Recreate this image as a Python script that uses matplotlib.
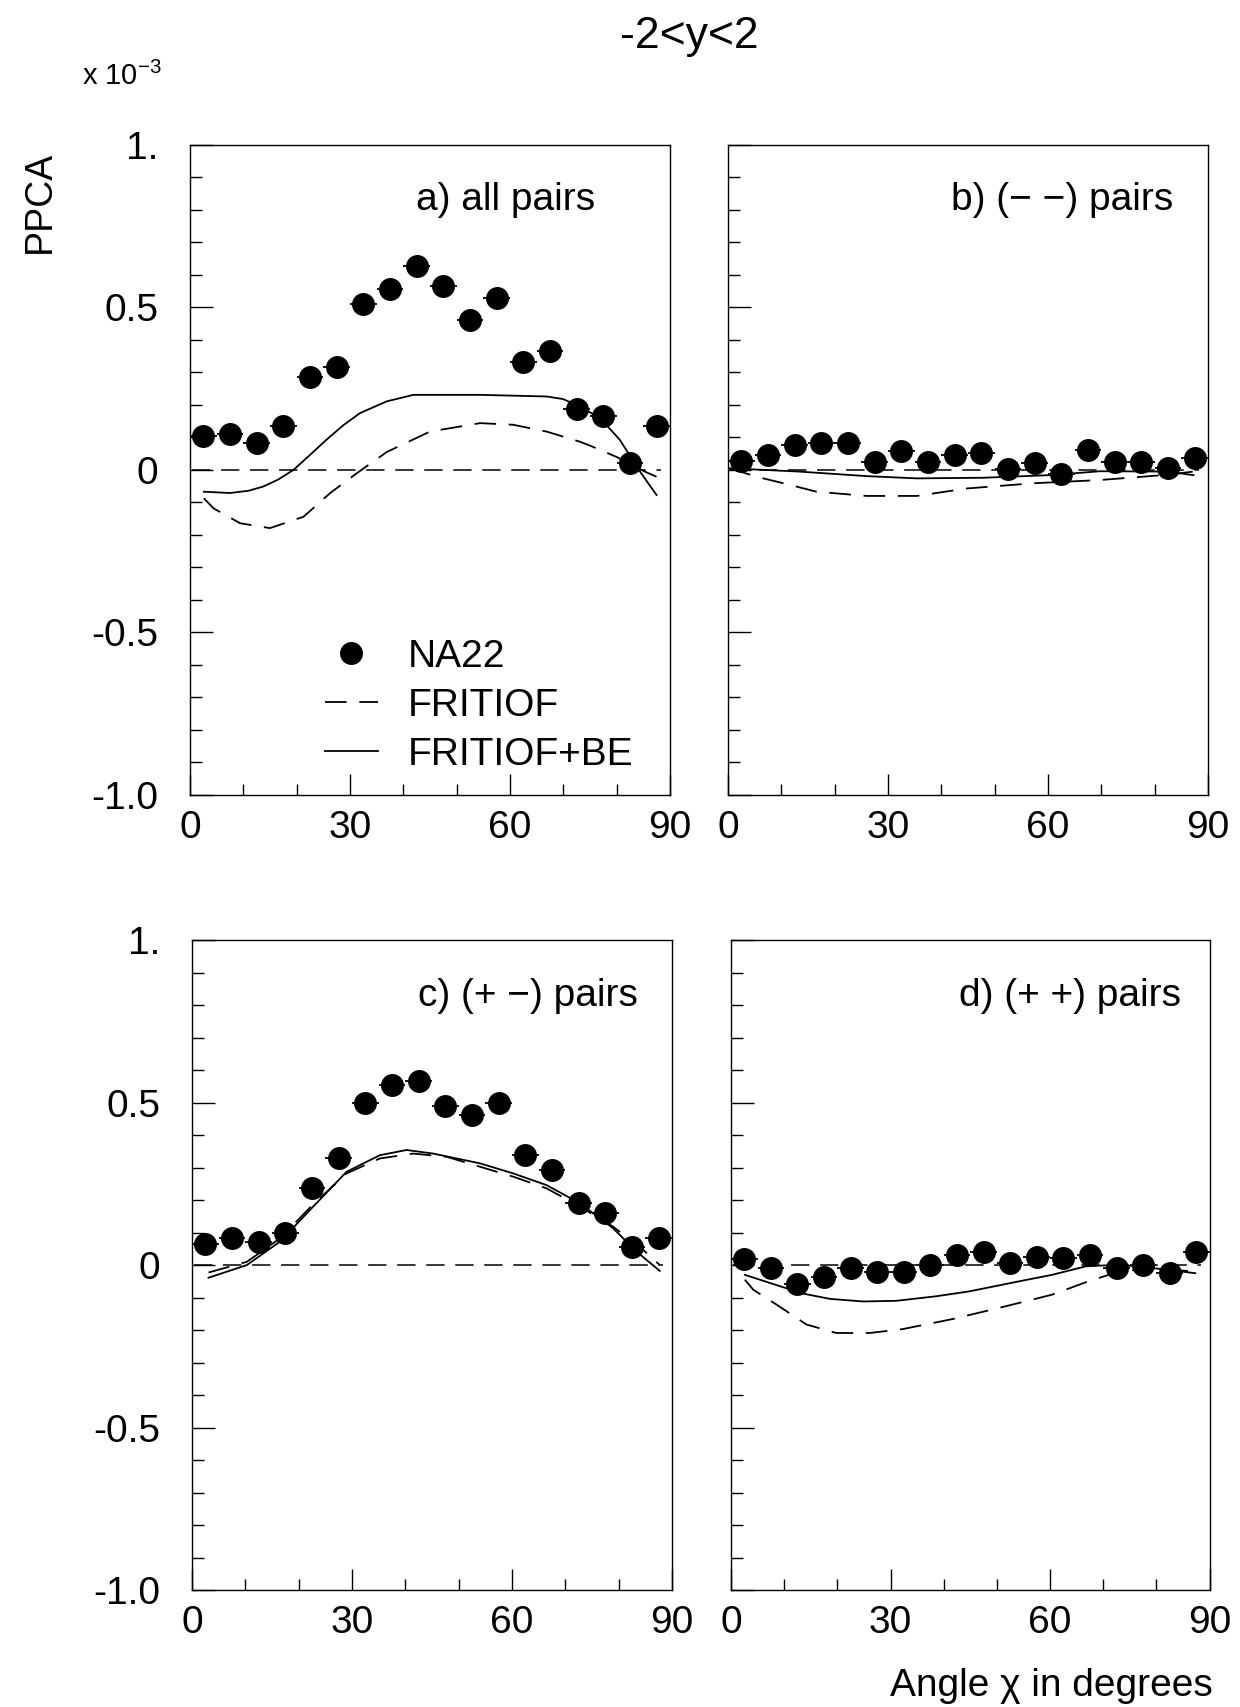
import numpy as np
import matplotlib.pyplot as plt
from matplotlib.ticker import MultipleLocator

plt.rcParams['font.family'] = ['Liberation Sans', 'DejaVu Sans']
plt.rcParams['mathtext.fontset'] = 'custom'
plt.rcParams['mathtext.rm'] = 'Liberation Sans'
plt.rcParams['mathtext.it'] = 'Liberation Sans:italic'

# bin centres (degrees), 5 degree bins
chi = np.arange(2.5, 90, 5)

# NA22 data, PPCA in units of 1e-3
na22_a = [0.103, 0.111, 0.082, 0.134, 0.286, 0.316, 0.512, 0.556, 0.628,
          0.566, 0.460, 0.530, 0.331, 0.365, 0.187, 0.167, 0.021, 0.136]
na22_b = [0.026, 0.046, 0.077, 0.082, 0.082, 0.023, 0.057, 0.023, 0.046,
          0.053, 0.002, 0.021, -0.013, 0.060, 0.023, 0.023, 0.005, 0.036]
na22_c = [0.064, 0.082, 0.072, 0.100, 0.236, 0.328, 0.500, 0.553, 0.566,
          0.490, 0.461, 0.498, 0.338, 0.292, 0.190, 0.159, 0.056, 0.082]
na22_d = [0.018, -0.009, -0.057, -0.037, -0.009, -0.020, -0.020, 0.001, 0.032,
          0.039, 0.006, 0.025, 0.022, 0.032, -0.009, 0.001, -0.023, 0.039]

# FRITIOF (dashed) and FRITIOF+BE (solid) curves
fr_x_a = [2.6, 4.4, 9.4, 15.0, 21.3, 26.3, 31.3, 36.9, 45.0, 54.4, 60.6, 66.9, 73.1, 75.0, 80.0, 85.3, 87.5]
fr_a = [-0.087, -0.118, -0.164, -0.179, -0.144, -0.071, -0.010, 0.055, 0.118, 0.144, 0.139, 0.118, 0.087, 0.075, 0.040, -0.005, -0.021]
be_x_a = [2.6, 7.5, 11.0, 13.75, 16.5, 19.4, 22.5, 25.6, 28.8, 31.9, 36.9, 41.9, 54.4, 66.9, 70.0, 73.1, 76.9, 80.6, 84.4, 87.5]
be_a = [-0.067, -0.071, -0.064, -0.051, -0.030, 0.0, 0.046, 0.093, 0.138, 0.175, 0.211, 0.231, 0.231, 0.226, 0.218, 0.195, 0.160, 0.093, -0.005, -0.077]

fr_x_b = [0.3, 5.4, 11.6, 16.6, 26.0, 35.4, 44.8, 57.3, 69.8, 82.3, 87.3]
fr_b = [0.005, -0.021, -0.046, -0.067, -0.080, -0.080, -0.057, -0.041, -0.031, -0.015, -0.005]
be_x_b = [0.3, 13.3, 26.0, 35.4, 47.9, 60.4, 69.8, 82.3, 87.3]
be_b = [0.005, -0.005, -0.019, -0.026, -0.024, -0.016, -0.004, -0.005, -0.016]

fr_x_c = [3.1, 10.3, 16.5, 22.75, 29.0, 35.25, 41.5, 47.8, 60.25, 66.5, 72.75, 79.0, 84.4, 87.75]
fr_c = [-0.023, 0.010, 0.082, 0.187, 0.282, 0.328, 0.343, 0.333, 0.272, 0.236, 0.180, 0.118, 0.050, 0.0]
be_x_c = [3.1, 10.3, 16.5, 22.75, 29.0, 35.25, 40.25, 45.25, 54.0, 60.25, 66.5, 72.75, 79.0, 83.4, 87.75]
be_c = [-0.039, 0.0, 0.072, 0.180, 0.287, 0.338, 0.354, 0.343, 0.313, 0.282, 0.246, 0.190, 0.113, 0.041, -0.018]

fr_x_d = [2.6, 4.2, 8.6, 14.2, 19.8, 26.1, 32.3, 41.7, 51.1, 60.4, 66.7, 72.9, 79.2, 87.3]
fr_d = [-0.045, -0.076, -0.122, -0.183, -0.209, -0.209, -0.197, -0.166, -0.129, -0.091, -0.053, -0.020, -0.010, -0.020]
be_x_d = [2.6, 7.3, 13.6, 18.6, 24.8, 31.1, 38.6, 44.8, 54.2, 60.4, 66.7, 72.9, 79.2, 87.3]
be_d = [-0.030, -0.055, -0.088, -0.104, -0.112, -0.110, -0.096, -0.081, -0.050, -0.030, -0.004, 0.001, -0.009, -0.025]

labels = ['a) all pairs', 'b) (\u2212 \u2212) pairs', 'c) (+ \u2212) pairs', 'd) (+ +) pairs']
ytick_vals = [-1.0, -0.5, 0, 0.5, 1.0]
ytick_text = ['-1.0', '-0.5', '0', '0.5', '1.']

fs = 28
dash = (12, 7)

fig = plt.figure(figsize=(12.4, 17.07), dpi=100)

# [left, bottom, width, height]
boxes = [[0.1532, 0.5343, 0.387, 0.3808],
         [0.5871, 0.5343, 0.387, 0.3808],
         [0.1548, 0.0685, 0.387, 0.3808],
         [0.5895, 0.0685, 0.386, 0.3808]]
lab_pos = [(0.845, 0.90), (0.927, 0.90), (0.93, 0.898), (0.94, 0.898)]

panels = [(na22_a, fr_x_a, fr_a, be_x_a, be_a),
          (na22_b, fr_x_b, fr_b, be_x_b, be_b),
          (na22_c, fr_x_c, fr_c, be_x_c, be_c),
          (na22_d, fr_x_d, fr_d, be_x_d, be_d)]

for i, (pts, fx, fy, bx, by) in enumerate(panels):
    ax = fig.add_axes(boxes[i])
    ax.axhline(0, xmin=0.005, xmax=0.982, color='black', lw=1.1, dashes=dash)
    l_fr, = ax.plot(fx, fy, color='black', lw=1.3, dashes=dash)
    l_be, = ax.plot(bx, by, color='black', lw=1.3)
    eb = ax.errorbar(chi, pts, xerr=2.5, fmt='o', color='black', ms=15.5,
                     elinewidth=1.3, capsize=0, zorder=5)

    ax.set_xlim(0, 90)
    ax.set_ylim(-1.0, 1.0)
    ax.xaxis.set_major_locator(MultipleLocator(30))
    ax.xaxis.set_minor_locator(MultipleLocator(10))
    ax.yaxis.set_minor_locator(MultipleLocator(0.1))
    ax.set_yticks(ytick_vals)
    if i % 2 == 0:
        ax.set_yticklabels(ytick_text)
    else:
        ax.set_yticklabels([])
    ax.tick_params(which='both', direction='in', top=False, right=False,
                   labelsize=fs, width=1)
    ax.tick_params(axis='y', which='major', length=16.5, pad=23)
    ax.tick_params(axis='y', which='minor', length=8.5)
    ax.tick_params(axis='x', which='major', length=15, pad=11)
    ax.tick_params(axis='x', which='minor', length=8)
    for sp in ax.spines.values():
        sp.set_linewidth(1.0)

    ax.text(lab_pos[i][0], lab_pos[i][1], labels[i], transform=ax.transAxes,
            ha='right', va='baseline', fontsize=fs)

    if i == 0:
        ax.legend([eb[0], l_fr, l_be], ['NA22', 'FRITIOF', 'FRITIOF+BE'],
                  loc='upper left', bbox_to_anchor=(0.281, 0.24),
                  frameon=False, fontsize=fs, numpoints=1,
                  handlelength=1.36, handletextpad=0.77, labelspacing=0.33,
                  borderpad=0, borderaxespad=0)

fig.text(0.556, 0.9719, '-2<y<2', ha='center', va='baseline', fontsize=32)
fig.text(0.066, 0.950, 'x 10$^{-3}$', ha='left', va='baseline', fontsize=21)
fig.text(0.032, 0.882, 'PPCA', ha='center', va='center', rotation=90, fontsize=27)
fig.text(0.978, 0.0065, 'Angle \u03c7 in degrees', ha='right', va='baseline', fontsize=fs)

fig.savefig('out.png', dpi=100)
